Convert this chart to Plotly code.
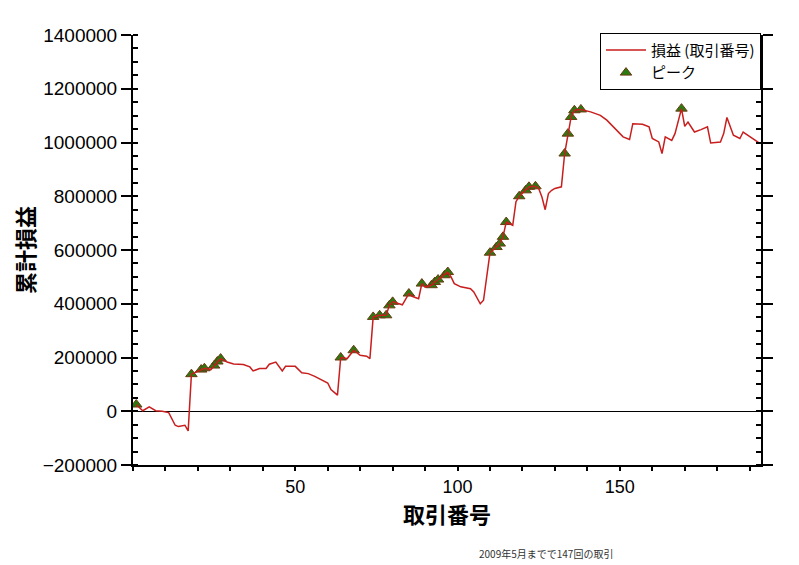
import plotly.graph_objects as go

# Trade number (x) and cumulative P/L (y)
trade_no = [1, 3, 5, 7, 9, 11, 13, 14, 16, 17, 18, 20, 21, 22, 24, 25, 26, 27, 29, 31,
            34, 36, 37, 39, 41, 42, 44, 45, 46, 47, 50, 52, 54, 56, 58, 60, 61, 63, 64, 66,
            68, 70, 72, 73, 74, 76, 78, 79, 80, 82, 83, 85, 86, 88, 89, 90, 92, 93, 94, 96,
            97, 98, 99, 101, 104, 105, 107, 108, 110, 112, 113, 114, 115, 117, 118, 119, 121, 122, 124, 125,
            126, 127, 128, 129, 130, 132, 133, 134, 135, 136, 138, 141, 144, 146, 149, 151, 153, 154, 157, 159,
            160, 162, 163, 164, 166, 167, 169, 170, 171, 173, 175, 177, 178, 181, 182, 183, 185, 187, 188, 190,
            192, 193]
cum_pl = [25000, 2000, 16000, 2000, 0, -5000, -52000, -57000, -52000, -73000, 138000, 150000, 155000, 160000, 155000, 170000, 185000, 196000, 183000, 176000,
          174000, 165000, 150000, 159000, 159000, 175000, 183000, 165000, 150000, 167000, 167000, 143000, 140000, 130000, 118000, 105000, 81000, 60000, 200000, 196000,
          227000, 208000, 205000, 196000, 351000, 357000, 357000, 394000, 407000, 400000, 396000, 438000, 428000, 419000, 475000, 462000, 469000, 481000, 490000, 506000,
          518000, 500000, 475000, 463000, 456000, 444000, 400000, 413000, 590000, 611000, 624000, 649000, 704000, 692000, 780000, 800000, 822000, 835000, 837000, 829000,
          797000, 750000, 810000, 822000, 829000, 835000, 959000, 1033000, 1095000, 1120000, 1123000, 1114000, 1101000, 1083000, 1046000, 1021000, 1011000, 1070000, 1068000, 1058000,
          1015000, 1002000, 959000, 1021000, 1008000, 1033000, 1126000, 1060000, 1076000, 1039000, 1048000, 1058000, 998000, 1002000, 1033000, 1093000, 1027000, 1015000, 1039000, 1021000,
          1006000, 998000]

# Peaks (triangle markers)
peak_x = [1, 18, 21, 22, 25, 26, 27, 64, 68, 74, 76, 78, 79, 80, 85, 89, 92, 93, 94, 96,
          97, 110, 112, 113, 114, 115, 119, 121, 122, 124, 133, 134, 135, 136, 138, 169]
peak_y = [25000, 138000, 155000, 160000, 170000, 185000, 196000, 200000, 227000, 351000, 357000, 357000, 394000, 407000, 438000, 475000, 469000, 481000, 490000, 506000,
          518000, 590000, 611000, 624000, 649000, 704000, 800000, 822000, 835000, 837000, 959000, 1033000, 1095000, 1120000, 1123000, 1126000]

line_name = "損益 (取引番号)"
peak_name = "ピーク"
x_title = "取引番号"
y_title = "累計損益"
footnote = "2009年5月までで147回の取引"

fig = go.Figure()
fig.add_trace(go.Scatter(
    x=peak_x, y=peak_y, mode="markers", name=peak_name, legendrank=2,
    marker=dict(symbol="triangle-up", size=10, color="#2A7A12",
                line=dict(color="#6B3A10", width=1)),
))
fig.add_trace(go.Scatter(
    x=trade_no, y=cum_pl, mode="lines", name=line_name, legendrank=1,
    line=dict(color="#C81E1E", width=1.5),
))

y_tick_font = dict(family="Liberation Sans, Arial, sans-serif", size=19, color="black")
x_tick_font = dict(family="Liberation Sans, Arial, sans-serif", size=18, color="black")
title_font = dict(family="Noto Sans CJK JP, sans-serif", size=22, color="black")

# The page body has an 8px margin, so the figure is sized to fit the 799x565 window.
fig.update_layout(
    width=791, height=557, autosize=False,
    margin=dict(l=125, r=38, t=27, b=100),
    paper_bgcolor="white", plot_bgcolor="white",
    showlegend=True,
    legend=dict(
        x=1.0, xanchor="right", y=1.005, yanchor="top",
        bgcolor="white", bordercolor="black", borderwidth=1,
        font=dict(family="Noto Sans CJK JP, sans-serif", size=15, color="black"),
        tracegroupgap=0, itemwidth=40,
    ),
    xaxis=dict(
        range=[0, 193.5], tickvals=[50, 100, 150], automargin=False,
        showline=True, linecolor="black", linewidth=2, mirror=False,
        ticks="outside", ticklen=4, tickwidth=2, tickcolor="black",
        minor=dict(dtick=10, tick0=0, ticks="outside", ticklen=4, tickwidth=1.5, tickcolor="black"),
        showgrid=False, zeroline=False,
        tickfont=x_tick_font,
    ),
    yaxis=dict(
        range=[-200000, 1400000], dtick=200000, tick0=0, tickformat="d", automargin=False,
        showline=True, linecolor="black", linewidth=2, mirror="ticks",
        ticks="outside", ticklen=10, tickwidth=2, tickcolor="black",
        minor=dict(dtick=50000, tick0=0, ticks="inside", ticklen=5, tickwidth=1.5, tickcolor="black"),
        showgrid=False,
        zeroline=True, zerolinecolor="black", zerolinewidth=1,
        tickfont=y_tick_font,
        title=dict(text="<b>" + y_title + "</b>", font=title_font, standoff=14),
    ),
    annotations=[
        dict(text="<b>" + x_title + "</b>", xref="paper", yref="paper", x=0.5, y=-0.112,
             xanchor="center", yanchor="middle", showarrow=False, font=title_font),
        dict(text=footnote, xref="paper", yref="paper", x=0.658, y=-0.205,
             xanchor="center", yanchor="middle", showarrow=False,
             font=dict(family="Noto Sans CJK JP, sans-serif", size=10, color="#333333")),
    ],
)

fig.write_html("out.html")
